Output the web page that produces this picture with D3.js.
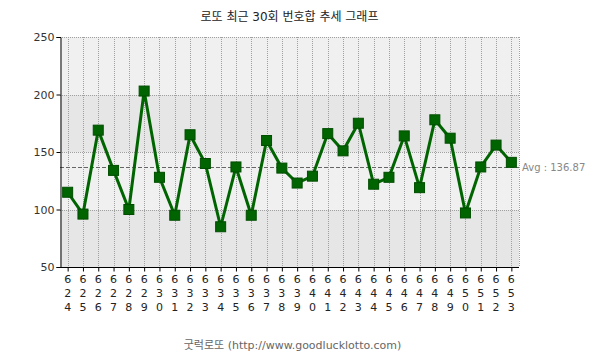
<!DOCTYPE html>
<html>
<head>
<meta charset="utf-8">
<style>
  body { margin: 0; background: #fff; }
  svg text { font-family: "DejaVu Sans", "Noto Sans CJK KR", sans-serif; }
  .grid line { stroke: #a0a0a0; stroke-dasharray: 1,1; }
</style>
</head>
<body>
<svg width="605" height="359"></svg>
<script src="https://d3js.org/d3.v7.min.js"></script>
<script>
// 회차
var rounds = [624, 625, 626, 627, 628, 629, 630, 631, 632, 633,
              634, 635, 636, 637, 638, 639, 640, 641, 642, 643,
              644, 645, 646, 647, 648, 649, 650, 651, 652, 653];
// 번호합
var sums = [115, 96, 169, 134, 100, 203, 128, 95, 165, 140,
            85, 137, 95, 160, 136, 123, 129, 166, 151, 175,
            122, 128, 164, 119, 178, 162, 97, 137, 156, 141];
var yTicks = [50, 100, 150, 200, 250];

var svg = d3.select("svg");
var plotL = 60, plotR = 519, plotT = 37, plotB = 267;

var x = d3.scalePoint().domain(rounds).range([plotL, plotR]).padding(0.5);
var y = d3.scaleLinear().domain([50, 250]).range([plotB, plotT]);
var avg = d3.mean(sums);

// 배경 띠
var bands = d3.range(0, yTicks.length - 1).map(function(i) { return [yTicks[i], yTicks[i + 1]]; });
svg.append("g").selectAll("rect")
  .data(bands)
  .enter().append("rect")
  .attr("x", plotL)
  .attr("width", plotR - plotL)
  .attr("y", function(d) { return y(d[1]); })
  .attr("height", function(d) { return y(d[0]) - y(d[1]); })
  .attr("fill", function(d, i) { return i % 2 == 0 ? "#e6e6e6" : "#f0f0f0"; });

// 그리드
var grid = svg.append("g").attr("class", "grid");
grid.selectAll("line.v")
  .data(rounds)
  .enter().append("line")
  .attr("x1", function(d) { return Math.round(x(d)) + 0.5; })
  .attr("x2", function(d) { return Math.round(x(d)) + 0.5; })
  .attr("y1", plotT).attr("y2", plotB);
grid.append("line").attr("x1", plotR + 0.5).attr("x2", plotR + 0.5).attr("y1", plotT).attr("y2", plotB);
grid.selectAll("line.h")
  .data(yTicks.slice(1))
  .enter().append("line")
  .attr("x1", plotL).attr("x2", plotR)
  .attr("y1", function(d) { return Math.round(y(d)) + 0.5; })
  .attr("y2", function(d) { return Math.round(y(d)) + 0.5; });

// 평균선
svg.append("line")
  .attr("x1", plotL).attr("x2", plotR)
  .attr("y1", Math.round(y(avg)) + 0.5).attr("y2", Math.round(y(avg)) + 0.5)
  .attr("stroke", "#666").attr("stroke-dasharray", "4,2");
svg.append("text")
  .attr("x", plotR + 3).attr("y", y(avg) + 4)
  .attr("font-size", 10).attr("fill", "#888")
  .text("Avg : " + avg.toFixed(2));

// 축
var yAxis = d3.axisLeft(y).tickValues(yTicks).tickSize(4).tickPadding(2);
svg.append("g")
  .attr("transform", "translate(" + (plotL + 0.5) + ",0)")
  .call(yAxis)
  .call(function(g) {
    g.selectAll("text").attr("font-size", 11).attr("fill", "#333").attr("font-family", "DejaVu Sans");
  });

var xAxis = d3.axisBottom(x).tickSize(4).tickFormat("");
var xg = svg.append("g")
  .attr("transform", "translate(0," + (plotB + 0.5) + ")")
  .call(xAxis);
xg.select(".domain").attr("d", "M" + plotL + ",0H" + plotR);

// 세로로 쓴 회차 라벨
var lab = svg.append("g").selectAll("text")
  .data(rounds)
  .enter().append("text")
  .attr("x", function(d) { return x(d); })
  .attr("y", plotB + 16)
  .attr("text-anchor", "middle")
  .attr("font-size", 11)
  .attr("fill", "#222");
lab.selectAll("tspan")
  .data(function(d) { return String(d).split(""); })
  .enter().append("tspan")
  .attr("x", function() { return x(+this.parentNode.__data__); })
  .attr("dy", function(d, i) { return i == 0 ? 0 : 14; })
  .text(function(d) { return d; });

// 선과 마커
var line = d3.line()
  .x(function(d, i) { return x(rounds[i]); })
  .y(function(d) { return y(d); });
svg.append("path")
  .datum(sums)
  .attr("d", line)
  .attr("fill", "none")
  .attr("stroke", "#006400")
  .attr("stroke-width", 3);
svg.append("g").selectAll("rect")
  .data(sums)
  .enter().append("rect")
  .attr("x", function(d, i) { return x(rounds[i]) - 5; })
  .attr("y", function(d) { return y(d) - 5; })
  .attr("width", 10).attr("height", 10)
  .attr("fill", "#006400")
  .attr("stroke", "#004d00").attr("stroke-width", 1);

// 제목, 출처
svg.append("text")
  .attr("x", (plotL + plotR) / 2).attr("y", 21)
  .attr("text-anchor", "middle")
  .attr("font-size", 12).attr("fill", "#222")
  .attr("font-family", "Noto Sans CJK KR")
  .text("로또 최근 30회 번호합 추세 그래프");
svg.append("text")
  .attr("x", (plotL + plotR) / 2 + 3).attr("y", 349)
  .attr("text-anchor", "middle")
  .attr("font-size", 11).attr("fill", "#666")
  .attr("font-family", "Noto Sans CJK KR")
  .text("굿럭로또 (http://www.goodlucklotto.com)");
</script>
</body>
</html>
